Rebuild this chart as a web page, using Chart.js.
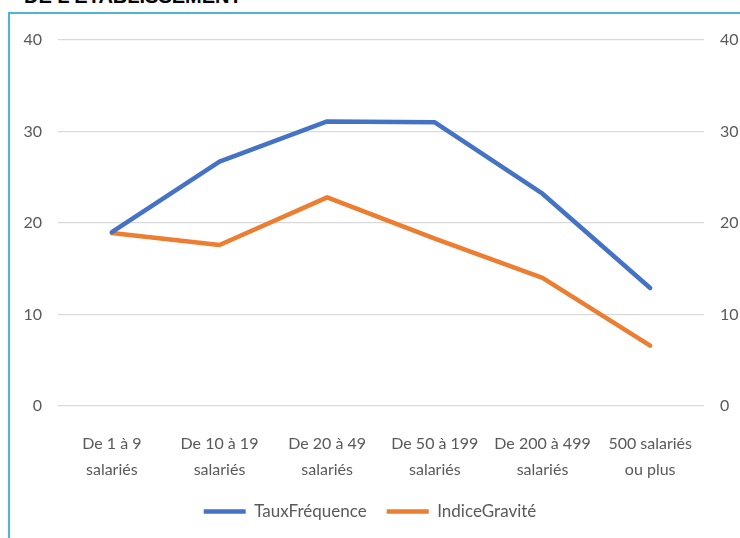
<!DOCTYPE html>
<html>
<head>
<meta charset="utf-8">
<script src="https://cdn.jsdelivr.net/npm/chart.js@4/dist/chart.umd.min.js"></script>
<style>
  body { margin: 0; background: #fff; }
  #wrap { position: relative; width: 740px; height: 538px; overflow: hidden; }
  #frame { position: absolute; left: 8px; top: 12px; right: -3px; bottom: -3px;
           border-left: 2px solid #4fb5d8; border-top: 2px solid #4fb5d8; }
  #title { position: absolute; left: 24px; top: -15px; font: bold 20px "Liberation Sans", Arial, sans-serif;
           color: #000; white-space: nowrap; }
  canvas { position: absolute; left: 0; top: 0; }
</style>
</head>
<body>
<div id="wrap">
  <div id="title">DE L'ETABLISSEMENT</div>
  <div id="frame"></div>
  <canvas id="myChart" width="740" height="538"></canvas>
</div>
<script>
const categories = [
  ['De 1 à 9', 'salariés'],
  ['De 10 à 19', 'salariés'],
  ['De 20 à 49', 'salariés'],
  ['De 50 à 199', 'salariés'],
  ['De 200 à 499', 'salariés'],
  ['500 salariés', 'ou plus']
];
const tauxFrequence = [19.0, 26.7, 31.1, 31.0, 23.2, 12.9];
const indiceGravite = [18.9, 17.6, 22.8, 18.3, 14.0, 6.6];
const yTicks = [0, 10, 20, 30, 40];

const fontFamily = 'Lato, "Open Sans", sans-serif';
const textColour = '#595959';

var ctx = document.getElementById('myChart').getContext('2d');
var chart = new Chart(ctx, {
    type: 'line',
    data: {
        labels: categories,
        datasets: [{
            label: 'TauxFréquence',
            data: tauxFrequence,
            borderColor: '#4472c4',
            backgroundColor: '#4472c4',
            borderWidth: 4.5,
            borderCapStyle: 'round',
            borderJoinStyle: 'round',
            pointRadius: 0,
            pointStyle: 'line',
            tension: 0,
            yAxisID: 'y'
        }, {
            label: 'IndiceGravité',
            data: indiceGravite,
            borderColor: '#ed7d31',
            backgroundColor: '#ed7d31',
            borderWidth: 4.5,
            borderCapStyle: 'round',
            borderJoinStyle: 'round',
            pointRadius: 0,
            pointStyle: 'line',
            tension: 0,
            yAxisID: 'y1'
        }]
    },
    options: {
        responsive: false,
        animation: false,
        layout: { padding: { top: 40, left: 0, right: 0, bottom: 8 } },
        plugins: {
            tooltip: { enabled: false },
            legend: {
                position: 'bottom',
                labels: {
                    usePointStyle: true,
                    pointStyleWidth: 42,
                    padding: 20,
                    color: textColour,
                    font: { family: fontFamily, size: 17 }
                }
            }
        },
        scales: {
            x: {
                offset: true,
                grid: { display: false, offset: true },
                border: { display: false },
                ticks: {
                    color: textColour,
                    padding: 17,
                    maxRotation: 0,
                    autoSkip: false,
                    font: { family: fontFamily, size: 16, lineHeight: 1.6 }
                },
                afterFit: (scale) => { scale.height = 77; }
            },
            y: {
                position: 'left',
                min: 0, max: 40,
                afterBuildTicks: (scale) => { scale.ticks = yTicks.map((v) => ({ value: v })); },
                grid: { color: '#d9d9d9', lineWidth: 1.3, drawTicks: false },
                border: { display: false },
                ticks: { color: textColour, padding: 16, font: { family: fontFamily, size: 16 } },
                afterFit: (scale) => { scale.width = 58; }
            },
            y1: {
                position: 'right',
                min: 0, max: 40,
                afterBuildTicks: (scale) => { scale.ticks = yTicks.map((v) => ({ value: v })); },
                grid: { display: false, drawTicks: false },
                border: { display: false },
                ticks: { color: textColour, padding: 16, font: { family: fontFamily, size: 16 } },
                afterFit: (scale) => { scale.width = 36; }
            }
        }
    }
});
</script>
</body>
</html>
